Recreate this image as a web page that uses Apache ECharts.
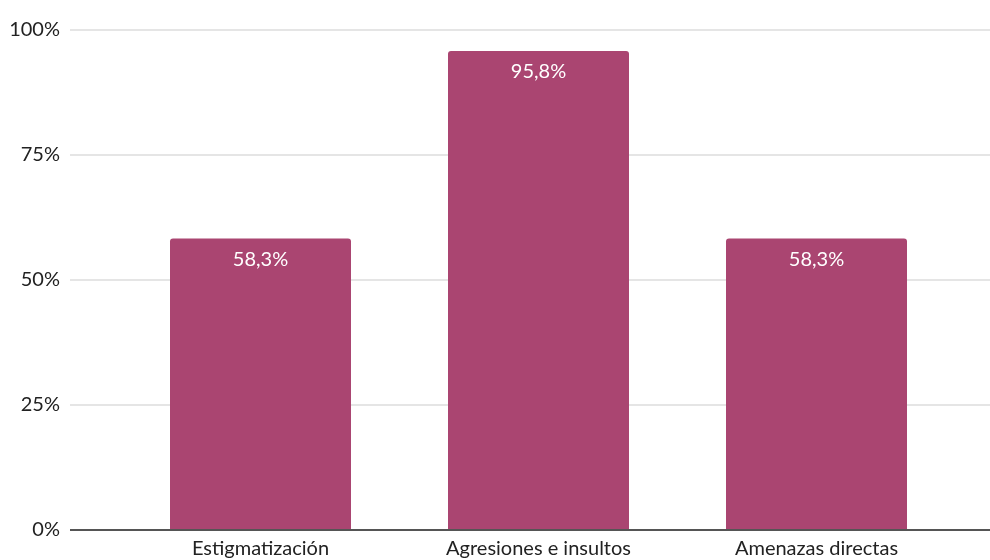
<!DOCTYPE html>
<html>
<head>
<meta charset="utf-8">
<script src="https://cdn.jsdelivr.net/npm/echarts@6/dist/echarts.min.js"></script>
<style>html,body{margin:0;padding:0;background:#fff}#c{width:990px;height:560px}</style>
</head>
<body>
<div id="c"></div>
<script>
var categories = ['Estigmatización', 'Agresiones e insultos', 'Amenazas directas'];
var values = [58.3, 95.8, 58.3];
var yTicks = [0, 25, 50, 75, 100];

var chart = echarts.init(document.getElementById('c'), null, {renderer: 'canvas'});
var font = 'Lato, "Open Sans", sans-serif';
chart.setOption({
  animation: false,
  grid: [
    {left: 70, right: 0, top: 30, bottom: 30},
    {left: 121.5, right: 34.5, top: 30, bottom: 30}
  ],
  xAxis: [
    {gridIndex: 0, type: 'value', min: 0, max: 1, show: true,
     axisLine: {show: false}, axisTick: {show: false}, axisLabel: {show: false}, splitLine: {show: false}},
    {gridIndex: 1, type: 'category', data: categories,
     axisLine: {show: false}, axisTick: {show: false},
     axisLabel: {color: '#222', fontSize: 20, fontFamily: font, margin: 9}}
  ],
  yAxis: [
    {gridIndex: 0, type: 'value', min: 0, max: 100, interval: 25,
     axisLine: {show: false}, axisTick: {show: false},
     axisLabel: {color: '#222', fontSize: 20, fontFamily: font, margin: 10,
       formatter: function(v){ return yTicks.indexOf(v) >= 0 ? v + '%' : ''; }},
     splitLine: {lineStyle: {color: '#dcdcdc', width: 1.5}}},
    {gridIndex: 1, type: 'value', min: 0, max: 100, interval: 25, show: false}
  ],
  series: [
    {type: 'bar', xAxisIndex: 1, yAxisIndex: 1, data: values, barWidth: 181,
     itemStyle: {color: '#AA4571', borderRadius: [3, 3, 0, 0]},
     label: {show: true, position: 'insideTop', distance: 11, color: '#fff', fontSize: 20, fontFamily: font,
       formatter: function(p){ return p.value.toFixed(1).replace('.', ',') + '%'; }},
     z: 2},
    {type: 'line', xAxisIndex: 0, yAxisIndex: 0, data: [[0, 0], [1, 0]], symbol: 'none',
     lineStyle: {color: '#555', width: 2}, z: 5, silent: true}
  ]
});
</script>
</body>
</html>
